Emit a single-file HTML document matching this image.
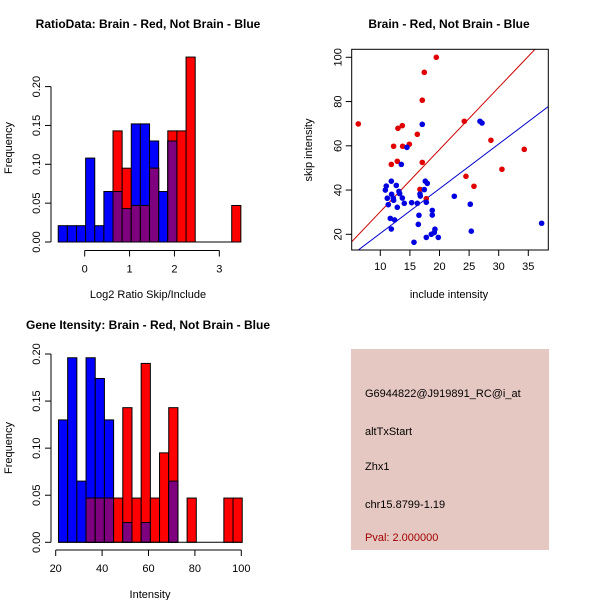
<!DOCTYPE html>
<html><head><meta charset="utf-8"><style>
body{margin:0;background:#fff;}
svg{display:block;font-family:"Liberation Sans",sans-serif;}
</style></head><body>
<svg id="chart" width="600" height="600" viewBox="0 0 600 600">
<rect width="600" height="600" fill="#fff"/>
<text x="148" y="28" font-size="12" font-weight="bold" text-anchor="middle">RatioData: Brain - Red, Not Brain - Blue</text>
<text x="449" y="28" font-size="12" font-weight="bold" text-anchor="middle">Brain - Red, Not Brain - Blue</text>
<text x="148" y="329" font-size="12" font-weight="bold" text-anchor="middle">Gene Itensity: Brain - Red, Not Brain - Blue</text>
<g id="g1"></g>
<g id="g2"></g>
<g id="g3"></g>
<g>
<rect x="351" y="349" width="198" height="201" fill="#e6c8c2"/>
<text x="365" y="397" font-size="11">G6944822@J919891_RC@i_at</text>
<text x="365" y="435" font-size="11">altTxStart</text>
<text x="365" y="470" font-size="11">Zhx1</text>
<text x="365" y="508" font-size="11">chr15.8799-1.19</text>
<text x="365" y="541" font-size="11" fill="#a00000">Pval: 2.000000</text>
</g>
</svg>
<script>
// Ratio histogram data
const ratioBinStart = -0.59;
const ratioBinWidth = 0.2035;
const ratioBlue = [0.021,0.021,0.021,0.108,0.021,0.065,0.065,0.043,0.152,0.152,0.13,0.065,0.13,0,0,0,0,0,0,0];
const ratioRed  = [0,0,0,0,0,0,0.143,0.095,0.047,0.047,0.095,0,0.143,0.143,0.238,0,0,0,0,0.047];
const ratioXTicks = [0,1,2,3];
const ratioYTicks = ["0.00","0.05","0.10","0.15","0.20"];
// Intensity histogram data
const intBinStart = 21.2;
const intBinWidth = 3.96;
const intBlue = [0.13,0.196,0.065,0.196,0.174,0.13,0,0.021,0,0.021,0,0,0.065,0,0,0,0,0,0,0];
const intRed  = [0,0,0,0.047,0.047,0.047,0.047,0.143,0.047,0.19,0.047,0.095,0.143,0,0.047,0,0,0,0.047,0.047];
const intXTicks = [20,40,60,80,100];
const intYTicks = ["0.00","0.05","0.10","0.15","0.20"];
// Scatter data
const redX = [6.28,19.46,17.43,17.09,12.98,13.72,12.25,13.77,14.90,16.25,11.86,12.87,17.09,24.19,28.69,34.32,30.55,24.47,25.82,16.70,17.77];
const redY = [69.9,100,93.2,80.6,67.9,69.1,59.8,59.8,60.7,65.2,51.6,53.0,52.5,71.1,62.5,58.4,49.4,46.2,41.7,40.3,36.1];
const blueX = [17.09,26.84,27.18,14.5,13.55,11.86,12.70,11.01,10.85,13.15,13.27,11.91,11.18,12.20,13.72,11.35,12.87,12.25,14.05,15.29,16.25,16.70,16.76,17.60,17.94,17.43,17.77,11.69,12.42,11.86,16.53,16.42,18.78,18.78,15.69,17.77,18.61,19.23,19.12,19.80,22.5,25.2,25.37,37.25];
const blueY = [69.7,71.1,70.3,59.3,51.6,44.0,42.1,41.8,40.0,39.4,38.4,38.1,36.3,36.3,36.4,33.4,32.2,35.4,34.0,34.3,34.0,38.2,37.3,44.0,43.0,40.2,34.5,27.2,26.5,22.4,28.6,24.5,30.8,28.7,16.4,18.6,20.0,22.3,20.8,18.6,37.2,33.6,21.4,25.0];
const fitIntercept = [2.1, 0.2];
const fitSlope = [2.81, 2.02];
const scatterXTicks = [10,15,20,25,30,35];
const scatterYTicks = [20,40,60,80,100];

const NS="http://www.w3.org/2000/svg";
function mk(parent,tag,attrs,text){const e=document.createElementNS(NS,tag);for(const k in attrs)e.setAttribute(k,attrs[k]);if(text!==undefined)e.textContent=text;parent.appendChild(e);return e;}

function hist(g,o){
  const sx=v=>o.x0px+(v-o.x0v)*o.kx, sy=v=>o.y0px-v*o.ky;
  for(let i=0;i<o.blue.length;i++){
    const a=o.binStart+i*o.binW,b=a+o.binW, xl=sx(a), w=sx(b)-xl;
    const bl=o.blue[i]||0, rd=o.red[i]||0;
    if(bl>0){const r=mk(g,'rect',{x:xl,y:sy(bl),width:w,height:sy(0)-sy(bl),fill:'#0000ff',stroke:'#000','stroke-width':1});
      
      }
    if(rd>0){const r=mk(g,'rect',{x:xl,y:sy(rd),width:w,height:sy(0)-sy(rd),fill:'#ff0000',stroke:'#000','stroke-width':1});
      
      }
    const m=Math.min(bl,rd);
    if(m>0){const r=mk(g,'rect',{x:xl,y:sy(m),width:w,height:sy(0)-sy(m),fill:'#7f007f',stroke:'#000','stroke-width':1});
      
      }
  }
  mk(g,'line',{x1:sx(o.binStart),x2:sx(o.binStart+o.blue.length*o.binW),y1:sy(0),y2:sy(0),stroke:'#000'});
  const yl=o.yTicks.map(Number);
  mk(g,'line',{x1:o.yAxisX,x2:o.yAxisX,y1:sy(yl[0]),y2:sy(yl[yl.length-1]),stroke:'#000'});
  o.yTicks.forEach(t=>{const y=sy(+t);mk(g,'line',{x1:o.yAxisX-6,x2:o.yAxisX,y1:y,y2:y,stroke:'#000'});
    const tx=mk(g,'text',{x:o.yAxisX-11,y:y,'font-size':11,'text-anchor':'middle',transform:`rotate(-90 ${o.yAxisX-11} ${y})`},t);
    
    });
  mk(g,'line',{x1:sx(o.xTicks[0]),x2:sx(o.xTicks[o.xTicks.length-1]),y1:o.xAxisY,y2:o.xAxisY,stroke:'#000'});
  o.xTicks.forEach(t=>{const x=sx(t);mk(g,'line',{x1:x,x2:x,y1:o.xAxisY,y2:o.xAxisY+6,stroke:'#000'});
    const tx=mk(g,'text',{x:x,y:o.xAxisY+22,'font-size':11,'text-anchor':'middle'},String(t));
    
    });
  const xt=mk(g,'text',{x:o.xLabelX,y:o.xLabelY,'font-size':11,'text-anchor':'middle'},o.xLabel);
  
  
  const yt=mk(g,'text',{x:12,y:o.yLabelY,'font-size':11,'text-anchor':'middle',transform:`rotate(-90 12 ${o.yLabelY})`},'Frequency');
  
  
}

hist(document.getElementById('g1'),{x0v:0,x0px:84.7,kx:44.87,y0px:242,ky:777,binStart:ratioBinStart,binW:ratioBinWidth,
  blue:ratioBlue,red:ratioRed,xTicks:ratioXTicks,yTicks:ratioYTicks,yAxisX:51,xAxisY:250.5,xLabel:'Log2 Ratio Skip/Include',xLabelX:148,xLabelY:298,yLabelY:148});
hist(document.getElementById('g3'),{x0v:20,x0px:55.7,kx:2.32,y0px:542.3,ky:941.5,binStart:intBinStart,binW:intBinWidth,
  blue:intBlue,red:intRed,xTicks:intXTicks,yTicks:intYTicks,yAxisX:51,xAxisY:550,xLabel:'Intensity',xLabelX:150,xLabelY:598,yLabelY:448});

(function(){
  const g=document.getElementById('g2');
  const L=351.7,R=548.3,T=49.3,B=250;
  const sx=v=>380.3+(v-10)*5.92, sy=v=>234.3-(v-20)*2.2125;
  const dx=v=>(v-380.3)/5.92+10;
  const clip=mk(g,'clipPath',{id:'sc'});mk(clip,'rect',{x:L,y:T,width:R-L,height:B-T});
  const cols=['#cc0000','#0000cc'];
  fitIntercept.forEach((a,i)=>{const xa=dx(L),xb=dx(R);
    const l=mk(g,'line',{x1:sx(xa),y1:sy(a+fitSlope[i]*xa),x2:sx(xb),y2:sy(a+fitSlope[i]*xb),stroke:cols[i],'stroke-width':1,'clip-path':'url(#sc)'});
    
    });
  redX.forEach((x,i)=>{const c=mk(g,'circle',{cx:sx(x),cy:sy(redY[i]),r:2.8,fill:'#e00000'});
    
    });
  blueX.forEach((x,i)=>{const c=mk(g,'circle',{cx:sx(x),cy:sy(blueY[i]),r:2.8,fill:'#0000e0'});
    
    });
  mk(g,'rect',{x:L,y:T,width:R-L,height:B-T,fill:'none',stroke:'#000'});
  scatterXTicks.forEach(t=>{const x=sx(t);mk(g,'line',{x1:x,x2:x,y1:B,y2:B+6,stroke:'#000'});
    const tx=mk(g,'text',{x:x,y:B+20,'font-size':11,'text-anchor':'middle'},String(t));
    
    });
  scatterYTicks.forEach(t=>{const y=sy(t);mk(g,'line',{x1:L-6,x2:L,y1:y,y2:y,stroke:'#000'});
    const tx=mk(g,'text',{x:L-10,y:y,'font-size':11,'text-anchor':'middle',transform:`rotate(-90 ${L-10} ${y})`},String(t));
    
    });
  const xt=mk(g,'text',{x:449,y:298,'font-size':11,'text-anchor':'middle'},'include intensity');
  
  
  const yt=mk(g,'text',{x:312,y:150,'font-size':11,'text-anchor':'middle',transform:'rotate(-90 312 150)'},'skip intensity');
  
  
})();
</script>
</body></html>
